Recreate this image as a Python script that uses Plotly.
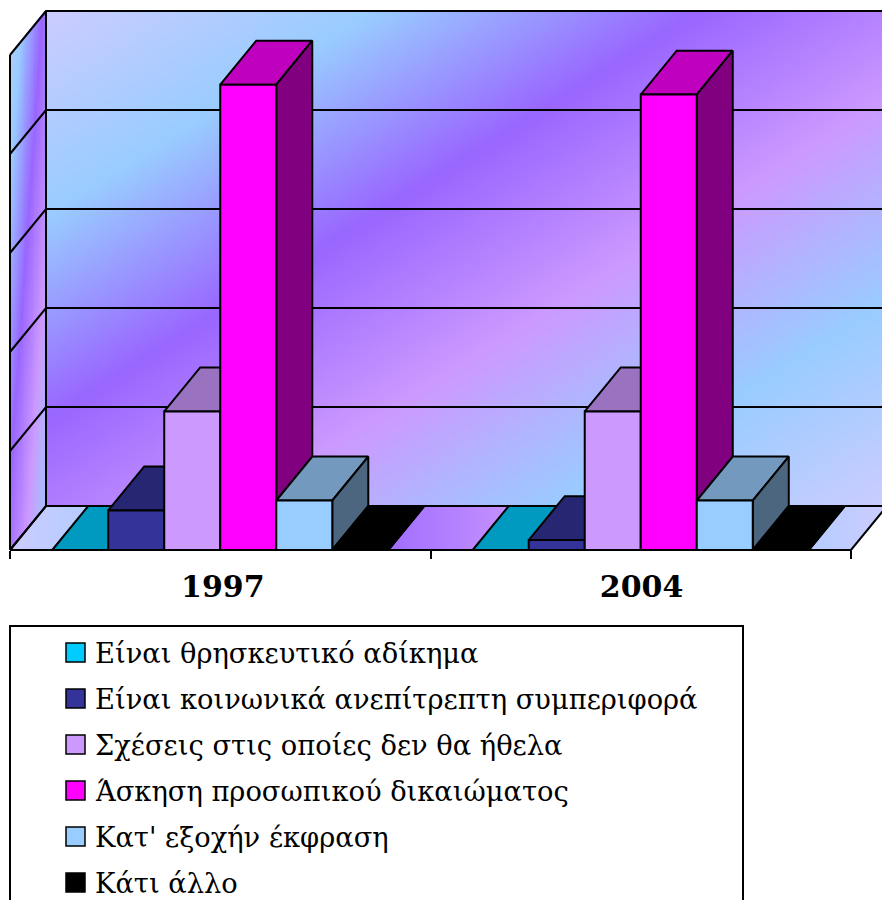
import numpy as np
import plotly.graph_objects as go

years = ["1997", "2004"]
names = [
    "Είναι θρησκευτικό αδίκημα",
    "Είναι κοινωνικά ανεπίτρεπτη συμπεριφορά",
    "Σχέσεις στις οποίες δεν θα ήθελα",
    "Άσκηση προσωπικού δικαιώματος",
    "Κατ' εξοχήν έκφραση",
    "Κάτι άλλο",
]
thriskeftiko = [0, 0]
koinonika = [4, 1]
scheseis = [14, 14]
askisi = [47, 46]
ekfrasi = [5, 5]
allo = [0, 0]
series = [thriskeftiko, koinonika, scheseis, askisi, ekfrasi, allo]
colors = [(0, 204, 255), (51, 51, 153), (204, 153, 255), (255, 0, 255), (153, 204, 255), (0, 0, 0)]
y_ticks = [0, 10, 20, 30, 40, 50]

W, H = 882, 900
FONT = "DejaVu Serif"
BAR_W = 0.1332     # category units
DX = 0.0856        # depth of the fake 3d box
DY = 4.44
PX_X = 420.5       # pixels per category
PX_Y = 9.9         # pixels per value unit
wall_scale = [[0, "#CCCCFF"], [0.2, "#99CCFF"], [0.4, "#9966FF"], [0.6, "#CC99FF"], [0.8, "#99CCFF"], [1, "#CCCCFF"]]


def shade(c, k):
    return "rgb(%d,%d,%d)" % tuple(round(v * k) for v in c)


def face(fig, xs, ys, fill=None, **kw):
    fig.add_trace(go.Scatter(
        x=xs, y=ys, mode="lines", xaxis="x2", yaxis="y2",
        line=dict(color="black", width=2),
        fill="toself" if (fill or kw) else "none", fillcolor=fill,
        hoverinfo="skip", showlegend=False, **kw
    ))


def mids(edges):
    return (edges[:-1] + edges[1:]) / 2


fig = go.Figure()

# gradients of the walls, in a page sized helper axis
gx = np.linspace(46, 887, 91)
gy = np.linspace(11, 506, 61)
xx, yy = np.meshgrid(mids(gx), mids(gy))
fig.add_trace(go.Heatmap(x=gx, y=gy, z=(xx + 1.6 * yy - 64) / 1633, zmin=0, zmax=1, zsmooth="best",
                         colorscale=wall_scale, showscale=False, hoverinfo="skip"))
sx = np.linspace(10, 46, 26)
sy = np.linspace(11, 550, 61)
xx, yy = np.meshgrid(mids(sx), mids(sy))
fig.add_trace(go.Heatmap(x=sx, y=sy, z=0.12 + (xx - 10) * 0.0097 + (yy - 60) * 0.00068, zmin=0, zmax=1, zsmooth="best",
                         colorscale=wall_scale, showscale=False, hoverinfo="skip"))
# hides the corner of the side wall above the box
fig.add_trace(go.Scatter(x=[9, 46, 9, 9], y=[9, 9, 55, 9], mode="none", fill="toself", fillcolor="white",
                         hoverinfo="skip", showlegend=False))

# floor
x0, x1 = -0.5, 1.5
face(fig, [x0, x1, x1 + DX, x0 + DX, x0], [0, 0, DY, DY, 0],
     fillgradient=dict(type="horizontal", colorscale=wall_scale))

# grid lines on the side and back walls
for v in y_ticks:
    face(fig, [x0, x0 + DX, x1 + DX], [v, v + DY, v + DY])
face(fig, [x0, x0], [0, y_ticks[-1]])
face(fig, [x0 + DX, x0 + DX], [DY, y_ticks[-1] + DY])

# bars, left to right so the later ones cover the earlier ones
for c in range(len(years)):
    for i, vals in enumerate(series):
        left = c + (i - 3) * BAR_W
        right = left + BAR_W
        v = vals[c]
        face(fig, [left, right, right + DX, left + DX, left], [v, v, v + DY, v + DY, v], fill=shade(colors[i], 0.75))
        face(fig, [right, right + DX, right + DX, right, right], [0, DY, v + DY, v, 0], fill=shade(colors[i], 0.5))
        face(fig, [left, right, right, left, left], [0, 0, v, v, 0], fill=shade(colors[i], 1))

# legend box
shapes = [dict(type="rect", xref="x", yref="y", x0=10, x1=743, y0=626, y1=915,
               line=dict(color="black", width=2), fillcolor="white", layer="above")]
annotations = []
for i, name in enumerate(names):
    cy = 653 + i * 46
    shapes.append(dict(type="rect", xref="x", yref="y", x0=66, x1=85, y0=cy - 10, y1=cy + 9,
                       line=dict(color="black", width=1.5), fillcolor=shade(colors[i], 1), layer="above"))
    annotations.append(dict(text=name, xref="x", yref="y", x=93, y=cy, xanchor="left", yanchor="middle",
                            showarrow=False, font=dict(family=FONT, size=27.3, color="black")))

fig.update_layout(
    width=W, height=H, margin=dict(l=0, r=0, t=0, b=0), showlegend=False,
    paper_bgcolor="white", plot_bgcolor="rgba(0,0,0,0)",
    shapes=shapes, annotations=annotations,
    xaxis=dict(range=[0, W], visible=False, domain=[0, 1]),
    yaxis=dict(range=[H, 0], visible=False, domain=[0, 1]),
    xaxis2=dict(
        domain=[0, 1], range=[x0 - 10 / PX_X, x1 + 31 / PX_X], anchor="free", position=1 - 550 / H,
        showline=False, showgrid=False, zeroline=False,
        tickmode="array", tickvals=[0.006, 1.002], ticktext=years, ticks="", ticklabelstandoff=16,
        tickfont=dict(family=FONT, size=30, color="black", weight="bold"),
        minor=dict(tickmode="array", tickvals=[-0.5, 0.5, 1.5], ticks="outside", ticklen=8, tickwidth=2, tickcolor="black"),
    ),
    yaxis2=dict(domain=[0, 1], range=[(550 - H) / PX_Y, 550 / PX_Y], anchor="x2", visible=False),
)

fig.write_html("out.html", config=dict(displayModeBar=False),
               post_script="document.body.style.margin='0';document.body.style.overflow='hidden';")
